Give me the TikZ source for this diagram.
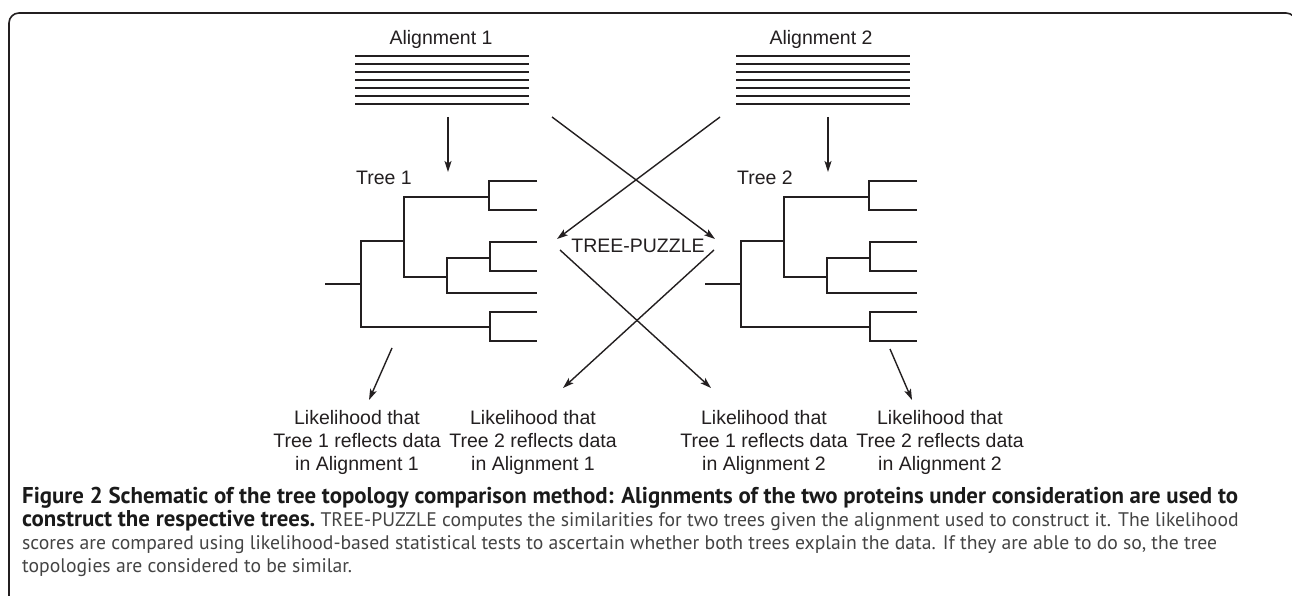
\documentclass[tikz,border=0pt]{standalone}
\usepackage{fontspec}
\setmainfont{Liberation Sans}
\newfontfamily\capfont{PT Sans}
\usetikzlibrary{arrows.meta}
\definecolor{ink}{HTML}{231F20}
\definecolor{capbold}{HTML}{1A1A1A}
\definecolor{capreg}{HTML}{444444}
\newlength\capw
\newlength\capwr

\begin{document}
% caption sizes: fit the bold first line and the regular third line to their widths
\settowidth\capw{\capfont\bfseries\fontsize{10}{12}\selectfont Figure 2 Schematic of the tree topology comparison method: Alignments of the two proteins under consideration are used to}%
\pgfmathsetmacro\capsz{10*1216/\capw}%
\settowidth\capwr{\capfont\fontsize{10}{12}\selectfont scores are compared using likelihood-based statistical tests to ascertain whether both trees explain the data. If they are able to do so, the tree}%
\pgfmathsetmacro\capszr{10*1195/\capwr}%
\begin{tikzpicture}[x=1pt,y=-1pt,
  lbl/.style={inner sep=0pt, text=ink, font=\fontsize{19.5}{23.3}\selectfont},
  blk/.style={lbl, align=center, anchor=north},
  treeline/.style={draw=ink, line width=1.8pt},
  seqline/.style={draw=ink, line width=1.7pt},
  arr/.style={draw=ink, line width=1.4pt, -{Stealth[length=11pt,width=7pt,inset=2.5pt]}},
  capline/.style={inner sep=0pt, anchor=base west}]

\useasboundingbox (0,0) rectangle (1292,596);
\fill[white] (0,0) rectangle (1292,596);

% outer frame, open beyond the page edges
\begin{scope}
  \clip (0,0) rectangle (1292,596);
  \draw[draw=ink, line width=1.6pt, rounded corners=10pt]
    (9,640) -- (9,13) -- (1296,13) -- (1296,640);
\end{scope}

% alignment labels and sequence blocks
\node[lbl, anchor=base] (aln1) at (441,45) {Alignment 1};
\node[lbl, anchor=base] (aln2) at (821,45) {Alignment 2};
\foreach \k in {0,...,6} {
  \draw[seqline] (355,56+8*\k) -- (529,56+8*\k);
  \draw[seqline] (736,56+8*\k) -- (910,56+8*\k);
}
\node[inner sep=0pt, minimum width=174pt, minimum height=48pt] (seq1) at (442,80) {};
\node[inner sep=0pt, minimum width=174pt, minimum height=48pt] (seq2) at (823,80) {};

% tree labels
\node[lbl, anchor=base] (tree1) at (384,185) {Tree 1};
\node[lbl, anchor=base] (tree2) at (765,185) {Tree 2};

% the two trees (same topology, second one shifted)
\foreach \dx/\nm in {0/t1, 380/t2} {
\begin{scope}[xshift=\dx]
  \draw[treeline] (325,284) -- (361,284);
  \draw[treeline] (404,241) -| (361,327) -- (490,327);
  \draw[treeline] (489,197) -| (404,277) -- (447,277);
  \draw[treeline] (537,181) -| (489,210) -- (537,210);
  \draw[treeline] (490,258) -| (447,293) -- (537,293);
  \draw[treeline] (537,242) -| (490,271) -- (537,271);
  \draw[treeline] (537,312) -| (490,341) -- (537,341);
  \coordinate (\nm root) at (325,284);
\end{scope}
}

% TREE-PUZZLE
\node[lbl, anchor=base] (puzzle) at (638,252) {TREE-PUZZLE};

% connector end points
\coordinate (a1out) at (448,117);
\coordinate (t1in)  at (448,172);
\coordinate (a2out) at (828,117);
\coordinate (t2in)  at (828,172);
\coordinate (a1x)   at (552,117);
\coordinate (a2x)   at (720,117);
\coordinate (pzw)   at (557,239);
\coordinate (pze)   at (715,239);
\coordinate (pzsw)  at (560,250);
\coordinate (pzse)  at (714,250);
\coordinate (t1out) at (392,348);
\coordinate (t2out) at (890,349);

% likelihood outcomes
\node[blk] (lk11) at (357,410) {Likelihood that\\Tree 1 reflects data\\in Alignment 1};
\node[blk] (lk21) at (533,410) {Likelihood that\\Tree 2 reflects data\\in Alignment 1};
\node[blk] (lk12) at (764,410) {Likelihood that\\Tree 1 reflects data\\in Alignment 2};
\node[blk] (lk22) at (940,410) {Likelihood that\\Tree 2 reflects data\\in Alignment 2};

% arrows
\draw[arr] (a1out) -- (t1in);
\draw[arr] (a2out) -- (t2in);
\draw[arr] (a1x) -- (pze);
\draw[arr] (a2x) -- (pzw);
\draw[arr] (pzsw) -- (711,388) coordinate (lk12in);
\draw[arr] (pzse) -- (563,388) coordinate (lk21in);
\draw[arr] (t1out) -- (369,400) coordinate (lk11in);
\draw[arr] (t2out) -- (912,400) coordinate (lk22in);

% caption
\node[capline, text=capbold, font=\capfont\bfseries\fontsize{\capsz}{\capsz}\selectfont] (cap1) at (22,503)
  {Figure 2 Schematic of the tree topology comparison method: Alignments of the two proteins under consideration are used to};
\node[capline] (cap2) at (22,526)
  {\capfont\textcolor{capbold}{\bfseries\fontsize{\capsz}{\capsz}\selectfont construct the respective trees.}\textcolor{capreg}{\fontsize{\capszr}{\capszr}\selectfont\ TREE-PUZZLE computes the similarities for two trees given the alignment used to construct it. The likelihood}};
\node[capline, text=capreg, font=\capfont\fontsize{\capszr}{\capszr}\selectfont] (cap3) at (22,549)
  {scores are compared using likelihood-based statistical tests to ascertain whether both trees explain the data. If they are able to do so, the tree};
\node[capline, text=capreg, font=\capfont\fontsize{\capszr}{\capszr}\selectfont] (cap4) at (22,572)
  {topologies are considered to be similar.};
\end{tikzpicture}
\end{document}
